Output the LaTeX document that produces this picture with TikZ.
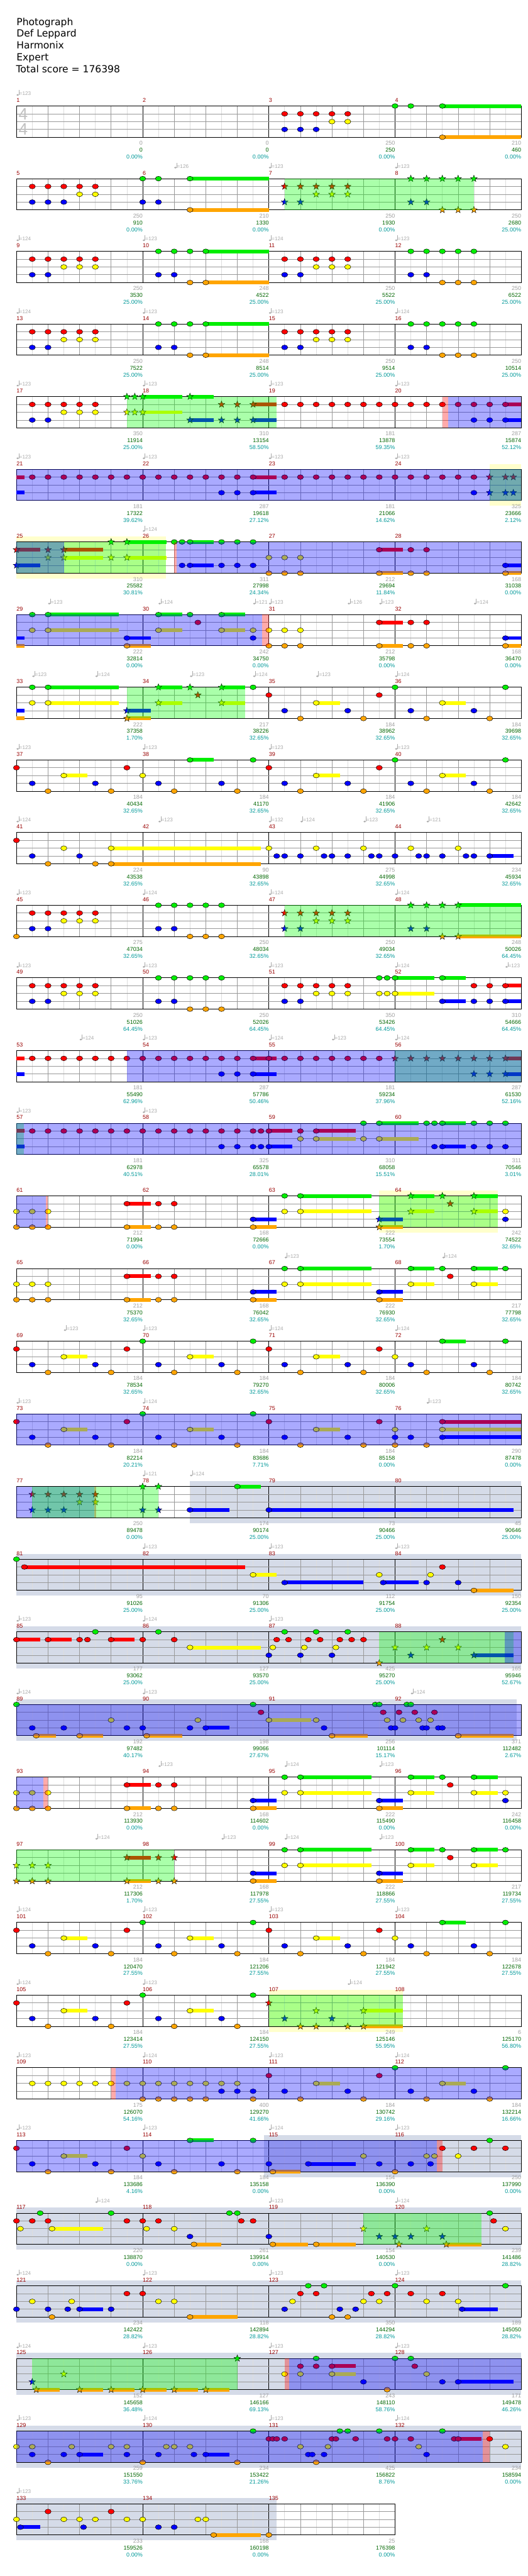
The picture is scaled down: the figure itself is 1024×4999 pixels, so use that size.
\documentclass[tikz,border=0pt]{standalone}
\usepackage{fontspec}
\setmainfont{Liberation Sans}
\newfontfamily\hdrfont{DejaVu Sans}
\definecolor{cG}{HTML}{00EE00}
\definecolor{cR}{HTML}{FF0000}
\definecolor{cY}{HTML}{FFFF00}
\definecolor{cB}{HTML}{0000FF}
\definecolor{cO}{HTML}{FFA500}
\definecolor{boxY}{HTML}{FFFFCC}
\definecolor{boxS}{HTML}{D5DBE8}
\definecolor{mred}{HTML}{990000}
\definecolor{sgry}{HTML}{A0A0A0}
\definecolor{sgrn}{HTML}{006600}
\definecolor{stel}{HTML}{009999}
\definecolor{tgry}{HTML}{AAAAAA}
\definecolor{lgrid}{HTML}{DDDDDD}
\definecolor{dgrid}{HTML}{999999}
\newcount\tcnt
\newcommand\rT{0}
\newcommand\setrow[1]{\pgfmathsetmacro\rT{205.7+141*#1}}
\newcommand\nt[3]{\filldraw[fill=#3,draw=black,line width=0.6] ({32+(#1)*30.625},{\rT+(#2)*15.15}) ellipse [x radius=6, y radius=4.65];}
\newcommand\sr[3]{\filldraw[fill=#3,draw=black,line width=0.5,shift={({32+(#1)*30.625},{\rT+(#2)*15.15})}] (270:6.8) -- (306:2.8) -- (342:6.8) -- (18:2.8) -- (54:6.8) -- (90:2.8) -- (126:6.8) -- (162:2.8) -- (198:6.8) -- (234:2.8) -- cycle;}
\newcommand\su[4]{\fill[#4] ({32+(#1)*30.625},{\rT+(#3)*15.15-3.65}) rectangle ({32+(#2)*30.625},{\rT+(#3)*15.15+3.65});}
\newcommand\nG[1]{\foreach \e in {#1}{\nt{\e}{0}{cG}}}
\newcommand\nR[1]{\foreach \e in {#1}{\nt{\e}{1}{cR}}}
\newcommand\nY[1]{\foreach \e in {#1}{\nt{\e}{2}{cY}}}
\newcommand\nB[1]{\foreach \e in {#1}{\nt{\e}{3}{cB}}}
\newcommand\nO[1]{\foreach \e in {#1}{\nt{\e}{4}{cO}}}
\newcommand\sG[1]{\foreach \e in {#1}{\sr{\e}{0}{cG}}}
\newcommand\sR[1]{\foreach \e in {#1}{\sr{\e}{1}{cR}}}
\newcommand\sY[1]{\foreach \e in {#1}{\sr{\e}{2}{cY}}}
\newcommand\sB[1]{\foreach \e in {#1}{\sr{\e}{3}{cB}}}
\newcommand\sO[1]{\foreach \e in {#1}{\sr{\e}{4}{cO}}}
\newcommand\uG[1]{\foreach \p/\q in {#1}{\su{\p}{\q}{0}{cG}}}
\newcommand\uR[1]{\foreach \p/\q in {#1}{\su{\p}{\q}{1}{cR}}}
\newcommand\uY[1]{\foreach \p/\q in {#1}{\su{\p}{\q}{2}{cY}}}
\newcommand\uB[1]{\foreach \p/\q in {#1}{\su{\p}{\q}{3}{cB}}}
\newcommand\uO[1]{\foreach \p/\q in {#1}{\su{\p}{\q}{4}{cO}}}
\newcommand\ovl[3]{\fill[#3,fill opacity=0.3333] ({32+(#1)*30.625},\rT) rectangle ({32+(#2)*30.625},{\rT+60.6});}
\newcommand\ovG[2]{\ovl{#1}{#2}{green}}
\newcommand\ovB[2]{\ovl{#1}{#2}{blue}}
\newcommand\ovP[2]{\ovl{#1}{#2}{red}}
\newcommand\bx[3]{\fill[#3] ({32+(#1)*30.625},{\rT-10.5}) rectangle ({32+(#2)*30.625},{\rT+71});}
\newcommand\bxY[2]{\bx{#1}{#2}{boxY}}
\newcommand\bxS[2]{\bx{#1}{#2}{boxS}}
\newcommand\grid[1]{%
  \pgfmathtruncatemacro\gnl{8*#1-1}\pgfmathtruncatemacro\gnd{8*#1-2}\pgfmathtruncatemacro\gnm{#1-1}%
  \foreach \e in {1,3,...,\gnl}{\draw[lgrid,line width=0.8] ({32+\e*30.625},\rT) -- ({32+\e*30.625},{\rT+60.6});}
  \foreach \e in {2,4,...,\gnd}{\draw[dgrid,line width=0.8] ({32+\e*30.625},\rT) -- ({32+\e*30.625},{\rT+60.6});}
  \foreach \e in {1,...,\gnm}{\draw[black,line width=0.8] ({32+\e*245},\rT) -- ({32+\e*245},{\rT+60.6});}
  \foreach \s in {1,2,3}{\draw[dgrid,line width=0.9] (32,{\rT+\s*15.15}) -- ({32+#1*245},{\rT+\s*15.15});}
  \draw[black,line width=1.1] (32,\rT) rectangle ({32+#1*245},{\rT+60.6});}
\newcommand\mlabs[2]{\pgfmathtruncatemacro\gml{#2-1}\foreach \i in {0,...,\gml}{\pgfmathtruncatemacro\mm{#1+\i}\node[mlabel] (m\mm) at ({32+\i*245},{\rT-7.4}) {\mm};}}
\newcommand\stats[4]{\pgfmathtruncatemacro\cc{mod(#1-1,4)+1}%
  \node[sgray] (ga#1) at ({32+\cc*245},{\rT+76}) {#2};
  \node[sgreen] (gb#1) at ({32+\cc*245},{\rT+89.3}) {#3};
  \node[steal] (gc#1) at ({32+\cc*245},{\rT+102.7}) {#4\%};}
\newcommand\tempos[1]{\foreach \p/\q in {#1}{%
  \global\advance\tcnt by 1
  \fill[tgry] ({32+\p*30.625+2.3},{\rT-21.4}) ellipse [x radius=2.4, y radius=1.7];
  \draw[tgry,line width=0.6] ({32+\p*30.625+4.5},{\rT-21.4}) -- ({32+\p*30.625+4.5},{\rT-31});
  \node[tmp] (tp\the\tcnt) at ({32+\p*30.625+5.3},{\rT-20.6}) {=\q};}}
\begin{document}
\begin{tikzpicture}[x=1pt,y=-1pt,
  mlabel/.style={anchor=base west,inner sep=0,text=mred,font=\fontsize{11}{11}\selectfont},
  sgray/.style={anchor=base east,inner sep=0,text=sgry,font=\fontsize{11}{11}\selectfont},
  sgreen/.style={sgray,text=sgrn},
  steal/.style={sgray,text=stel},
  tmp/.style={anchor=base west,inner sep=0,text=tgry,font=\fontsize{10}{10}\selectfont},
  hdr/.style={anchor=base west,inner sep=0,font=\hdrfont\fontsize{19}{19}\selectfont}]
\useasboundingbox (0,0) rectangle (1024,4999);
\fill[white] (0,0) rectangle (1024,4999);
\node[hdr] (title) at (32,49.3) {Photograph};
\node[hdr] (artist) at (32,72) {Def Leppard};
\node[hdr] (charter) at (32,95) {Harmonix};
\node[hdr] (diff) at (32,118) {Expert};
\node[hdr] (total) at (31,140.7) {Total score = 176398};
% row 0
\setrow{0}
\grid{4}
\uG{27/32}\uO{27/32}
\nG{24,25,27}\nR{17,18,19,20,21}\nY{20,21}\nB{17,18,19}\nO{27}
\node[text=lgrid!70!gray,font=\fontsize{32}{32}\selectfont,inner sep=0] (ts1) at (45,{\rT+15.5}) {4};
\node[text=lgrid!70!gray,font=\fontsize{32}{32}\selectfont,inner sep=0] (ts2) at (45,{\rT+45}) {4};
\tempos{0/123}
\mlabs{1}{4}
\stats{1}{0}{0}{0.00}\stats{2}{0}{0}{0.00}\stats{3}{250}{250}{0.00}\stats{4}{210}{460}{0.00}
% row 1
\setrow{1}
\grid{4}
\uG{11/16}\uO{11/16}
\nR{1,2,3,4,5}\nY{4,5}\nB{1,2,3,8,9}\nG{8,9,11}\nO{11}
\sR{17,18,19,20,21}\sY{19,20,21}\sB{17,18,25,26}\sG{25,26,27,28,29}\sO{27,28,29}
\ovG{17}{29}
\tempos{10/126,16/123,24/123}
\mlabs{5}{4}
\stats{5}{250}{910}{0.00}\stats{6}{210}{1330}{0.00}\stats{7}{250}{1930}{0.00}\stats{8}{250}{2680}{25.00}
% row 2
\setrow{2}
\grid{4}
\uG{12/16}\uO{12/16}
\nR{1,2,3,4,5,17,18,19,20,21}\nY{3,4,5,19,20,21}\nB{1,2,9,10,17,18,25,26}\nG{9,10,11,12,25,26,27,28,29}\nO{11,12,27,28,29}
\tempos{0/124,8/123,16/124,24/123}
\mlabs{9}{4}
\stats{9}{250}{3530}{25.00}\stats{10}{248}{4522}{25.00}\stats{11}{250}{5522}{25.00}\stats{12}{250}{6522}{25.00}
% row 3
\setrow{3}
\grid{4}
\uG{12/16}\uO{12/16}
\nR{1,2,3,4,5,17,18,19,20,21}\nY{3,4,5,19,20,21}\nB{1,2,9,10,17,18,25,26}\nG{9,10,11,12,25,26,27,28,29}\nO{11,12,27,28,29}
\tempos{0/124,8/123,16/123,24/124}
\mlabs{13}{4}
\stats{13}{250}{7522}{25.00}\stats{14}{248}{8514}{25.00}\stats{15}{250}{9514}{25.00}\stats{16}{250}{10514}{25.00}
% row 4
\setrow{4}
\grid{4}
\uG{8/10.5,11/12.5}\uY{8/10.5}\uB{11/12.5,15/16.5,31/32}\uR{15/16.5,31/32}
\nR{1,2,3,4,5}\nR{17,...,31}\nY{3,4,5}\nB{1,2,29,30,31}
\sG{7,7.5,8,11}\sY{7,7.5,8}\sB{11,13,14,15}\sR{13,14,15}
\ovG{7}{16.5}\ovP{27}{27.37}\ovB{27.37}{32}
\tempos{0/123,8/123,16/123,24/123}
\mlabs{17}{4}
\stats{17}{350}{11914}{25.00}\stats{18}{310}{13154}{58.50}\stats{19}{181}{13878}{59.35}\stats{20}{287}{15874}{52.12}
% row 5
\setrow{5}
\bxY{30}{32}
\grid{4}
\uR{0/0.5,15/16.5}\uB{0/0.5,15/16.5}
\nR{1,...,15}\nR{17,...,29}\nB{13,14,15,29}
\sR{30,31,31.5}\sB{30,31,31.5}
\ovG{30}{32}\ovB{0}{32}
\tempos{0/123,8/123,16/123,24/123}
\mlabs{21}{4}
\stats{21}{181}{17322}{39.62}\stats{22}{287}{19618}{27.12}\stats{23}{181}{21066}{14.62}\stats{24}{325}{23666}{2.12}
% row 6
\setrow{6}
\bxY{0}{9.47}
\grid{4}
\uR{0/1.5,3/5.5,23/24.5}\uB{0/1.5,11/12.5,31/32}\uY{3/5.5,7/9.5}\uG{7/9.5,11/12.5}\uO{23/24.5,31/32}
\nG{10,10.5,11,13,14,15}\nB{10.5,11,13,14,15,31}\nY{16,17,18}\nO{16,17,18,23,25,26,31}\nR{23,25,26}
\sR{0,2,3}\sB{0}\sY{2,3,6,7}\sG{6,7}
\ovG{0}{9.47}\ovB{0}{3}\ovP{10}{10.17}\ovB{10.17}{32}
\tempos{8/124}
\mlabs{25}{4}
\stats{25}{310}{25582}{30.81}\stats{26}{311}{27998}{24.34}\stats{27}{212}{29694}{11.84}\stats{28}{168}{31038}{0.00}
% row 7
\setrow{7}
\grid{4}
\uB{0/0.5,7/8.5,31/32}\uO{0/0.5,7/8.5,23/24.5,31/32}\uG{2/6.5,9/10.5,13/14.5}\uY{2/6.5,9/10.5,13/14.5}\uR{23/24.5}
\nG{1,2,9,11,13}\nY{1,2,9,13,15,16,17,18}\nB{7,15,31}\nO{7,16,17,18,23,25,26,31}\nR{11.5,23,25,26}
\ovB{0}{15.56}\ovP{15.56}{16}
\tempos{2/123,9/124,15/121,16/123,21/126,23/123,29/124}
\mlabs{29}{4}
\stats{29}{222}{32814}{0.00}\stats{30}{242}{34750}{0.00}\stats{31}{212}{35798}{0.00}\stats{32}{168}{36470}{0.00}
% row 8
\setrow{8}
\grid{4}
\uB{0/0.5,7/8.5}\uO{0/0.5,7/8.5}\uG{2/6.5,9/10.5,13/14.5}\uY{2/6.5,9/10.5,13/14.5,19/20.5,27/28.5}
\nG{1,2,15,24,31}\nY{1,2,19,27}\nR{16,23}\nB{17,21,25,29}\nO{18,22,26,30}
\sB{7}\sO{7}\sG{9,11,13}\sY{9,13}\sR{11.5}
\ovG{7}{14.5}
\tempos{1/123,5/124,11/123,15/124,19/123,24/124}
\mlabs{33}{4}
\stats{33}{222}{37358}{1.70}\stats{34}{217}{38226}{32.65}\stats{35}{184}{38962}{32.65}\stats{36}{184}{39698}{32.65}
% row 9
\setrow{9}
\grid{4}
\uY{3/4.5,19/20.5,27/28.5}\uG{11/12.5}
\nR{0,7,16,23}\nB{1,5,9,13,17,21,25,29}\nO{2,6,10,14,18,22,26,30}\nY{3,8,19,27}\nG{11,15,24,31}
\tempos{0/123,8/123,16/123,24/123}
\mlabs{37}{4}
\stats{37}{184}{40434}{32.65}\stats{38}{184}{41170}{32.65}\stats{39}{184}{41906}{32.65}\stats{40}{184}{42642}{32.65}
% row 10
\setrow{10}
\grid{4}
\uY{6/15.5}\uO{6/15.5}\uB{30/31.5}
\nR{0}\nB{1,4,16.5,17,18,19.5,20,21,22.5,23,24,25.5,26,27,28.5,29,30}\nO{2,5,6}\nY{3,6,16,19,22,25,28}
\tempos{0/124,9/123,16/132,18/124,22/123,26/121}
\mlabs{41}{4}
\stats{41}{224}{43538}{32.65}\stats{42}{90}{43898}{32.65}\stats{43}{275}{44998}{32.65}\stats{44}{234}{45934}{32.65}
% row 11
\setrow{11}
\grid{4}
\uG{28/32}\uO{28/32}
\nO{0,11,12,13}\nR{1,2,3,4,5}\nY{3,4,5}\nB{1,2,9,10}\nG{9,10,11,12,13}
\sR{17,18,19,20,21}\sY{19,20,21}\sB{17,18,25,26}\sG{25,26,27,28}\sO{27,28}
\ovG{17}{32}
\tempos{0/123,8/124,16/124,24/124}
\mlabs{45}{4}
\stats{45}{275}{47034}{32.65}\stats{46}{250}{48034}{32.65}\stats{47}{250}{49034}{32.65}\stats{48}{248}{50026}{64.45}
% row 12
\setrow{12}
\grid{4}
\uG{24/26.5,27/28.5}\uY{24/26.5}\uB{27/28.5,31/32}\uR{31/32}
\nR{1,2,3,4,5,17,18,19,20,21,29,30,31}\nY{3,4,5,19,20,21,23,23.5,24}\nB{1,2,9,10,17,18,27,29,30,31}\nG{9,10,11,12,13,23,23.5,24,27}\nO{11,12,13}
\tempos{0/123,8/123,16/123,24/124,31/123}
\mlabs{49}{4}
\stats{49}{250}{51026}{64.45}\stats{50}{250}{52026}{64.45}\stats{51}{350}{53426}{64.45}\stats{52}{310}{54666}{64.45}
% row 13
\setrow{13}
\grid{4}
\uR{0/0.5,15/16.5,31/32}\uB{0/0.5,15/16.5,31/32}
\nR{1,...,23}\nB{13,14,15}
\sR{24,...,31}\sB{29,30,31}
\ovG{24}{32}\ovB{7}{32}
\tempos{4/124,8/123,16/124,20/123,24/124}
\mlabs{53}{4}
\stats{53}{181}{55490}{62.96}\stats{54}{287}{57786}{50.46}\stats{55}{181}{59234}{37.96}\stats{56}{287}{61530}{52.16}
% row 14
\setrow{14}
\grid{4}
\uR{0/0.5,16/17.5,19/21.5}\uB{0/0.5,16/17.5,27/28.5}\uY{19/21.5,23/25.5}\uG{23/25.5,27/28.5}
\nR{1,...,15}\nR{15.5,16,18,19}\nB{13,14,15,15.5,16,26.5,27,29,30,31}\nY{18,19,22,23}\nG{22,23,26,26.5,27,29,30,31}
\ovG{0}{0.48}\ovB{0}{32}
\tempos{0/123,8/123}
\mlabs{57}{4}
\stats{57}{181}{62978}{40.51}\stats{58}{325}{65578}{28.01}\stats{59}{310}{68058}{15.51}\stats{60}{311}{70546}{3.01}
% row 15
\setrow{15}
\bxY{23}{30.5}
\grid{4}
\uR{7/8.5}\uO{7/8.5,15/16.5,23/24.5}\uB{15/16.5,23/24.5}\uG{18/22.5,25/26.5,29/30.5}\uY{18/22.5,25/26.5,29/30.5}
\nY{0,1,2,17,18,31}\nO{0,1,2,7,9,10,15}\nR{7,9,10}\nB{15,31}\nG{17,18}
\sB{23}\sO{23}\sG{25,27,29}\sY{25,29}\sR{27.5}
\ovB{0}{1.87}\ovP{1.87}{2}\ovG{23}{30.5}
\mlabs{61}{4}
\stats{61}{212}{71994}{0.00}\stats{62}{168}{72666}{0.00}\stats{63}{222}{73554}{1.70}\stats{64}{242}{74522}{32.65}
% row 16
\setrow{16}
\grid{4}
\uR{7/8.5}\uO{7/8.5,15/16.5,23/24.5}\uB{15/16.5,23/24.5}\uG{18/22.5,25/26.5,29/30.5}\uY{18/22.5,25/26.5,29/30.5}
\nY{0,1,2,17,18,25,29}\nO{0,1,2,7,9,10,15,23}\nR{7,9,10,27.5}\nB{15,23}\nG{17,18,25,27,29,31}
\tempos{17/123,27/124}
\mlabs{65}{4}
\stats{65}{212}{75370}{32.65}\stats{66}{168}{76042}{32.65}\stats{67}{222}{76930}{32.65}\stats{68}{217}{77798}{32.65}
% row 17
\setrow{17}
\grid{4}
\uY{3/4.5,11/12.5,19/20.5}\uG{27/28.5}
\nR{0,7,16,23}\nB{1,5,9,13,17,21,25,29}\nO{2,6,10,14,18,22,26,30}\nY{3,11,19,24}\nG{8,15,27,31}
\tempos{3/123,8/123,16/124,24/124}
\mlabs{69}{4}
\stats{69}{184}{78534}{32.65}\stats{70}{184}{79270}{32.65}\stats{71}{184}{80006}{32.65}\stats{72}{184}{80742}{32.65}
% row 18
\setrow{18}
\grid{4}
\uY{3/4.5,11/12.5,19/20.5,27/32}\uR{27/32}\uB{27/32}
\nR{0,7,16,23,27}\nB{1,5,9,13,17,21,24,25,27}\nO{2,6,10,14,18,22,24,26}\nY{3,11,19,24,27}\nG{8,15}
\ovB{0}{32}
\tempos{0/123,8/124,26/123}
\mlabs{73}{4}
\stats{73}{184}{82214}{20.21}\stats{74}{184}{83686}{7.71}\stats{75}{184}{85158}{0.00}\stats{76}{290}{87478}{0.00}
% row 19
\setrow{19}
\bxS{11}{32}
\grid{4}
\uG{14/15.5}\uB{11/13.5,16/31.5}
\nG{14}\nB{11,16}
\sR{1,2,3,4,5}\sB{1,2,3,8,9}\sY{4,5}\sG{8,9}
\ovB{0}{4.95}\ovP{4.95}{5.05}\ovG{1}{9}
\tempos{8/121,11/124}
\mlabs{77}{4}
\stats{77}{250}{89478}{0.00}\stats{78}{174}{90174}{25.00}\stats{79}{73}{90466}{25.00}\stats{80}{45}{90646}{25.00}
% row 20
\setrow{20}
\bxS{0}{32}
\grid{4}
\uR{0.5/14.5}\uY{15/16.5}\uB{17/22,23.25/25.5}\uO{29/31.5}
\nG{0}\nR{0.5,27}\nY{15,23,26.25}\nB{17,23.25,26,28}\nO{29}
\tempos{8/123,16/123,24/123}
\mlabs{81}{4}
\stats{81}{95}{91026}{25.00}\stats{82}{70}{91306}{25.00}\stats{83}{112}{91754}{25.00}\stats{84}{150}{92354}{25.00}
% row 21
\setrow{21}
\bxS{0}{32}
\grid{4}
\uR{0/1.5,2/3.5,6/7.5}\uY{11/15.5}\uB{29/31.5}
\nR{0,2,4,4.5,6,8,10,16.5,17.25,18.5,19.25,20.5,21.25,22}\nG{5,9,17,19,21}\nY{11,16.25,18.25,20.25}\nB{16,18,20}
\sO{23}\sY{24,26,28}\sB{25,29}\sR{27}
\ovG{23}{31.5}\ovB{30.95}{32}
\tempos{0/123,8/124,16/123}
\mlabs{85}{4}
\stats{85}{177}{93062}{25.00}\stats{86}{127}{93570}{25.00}\stats{87}{425}{95270}{25.00}\stats{88}{165}{95946}{52.67}
% row 22
\setrow{22}
\bxS{0}{31.7}
\grid{4}
\uY{16/18.7}\uB{12/13.5}\uO{1.25/2.5,4/5.5,8.25/10.5,20/22.25,28/31.5}
\nG{0,15,22.75,23,24.75,25}\nR{15.5,23.25,24.25,25.25,26.5}\nY{6,11.5,16,19,23.5,24.5,25.5,26.25}\nB{1,3,7,8,11,12,19.5,23.75,24,25.75,26,26.75,27}\nO{1.25,4,8.25,20,28}
\ovB{0}{32}
\tempos{0/124,8/123,25/124}
\mlabs{89}{4}
\stats{89}{192}{97482}{40.17}\stats{90}{198}{99066}{27.67}\stats{91}{256}{101114}{15.17}\stats{92}{371}{112482}{2.67}
% row 23
\setrow{23}
\grid{4}
\uR{7/8.5}\uO{7/8.5,15/16.5,23/24.5}\uB{15/16.5,23/24.5}\uG{18/22.5,25/26.5,29/30.5}\uY{18/22.5,25/26.5,29/30.5}
\nY{0,1,2,17,18,25,29,31}\nO{0,1,2,7,9,10,15,23}\nR{7,9,10,27.5}\nB{15,23,31}\nG{17,18,25,27,29}
\ovB{0}{1.7}\ovP{1.7}{2}
\tempos{9/123,17/124,23/123}
\mlabs{93}{4}
\stats{93}{212}{113930}{0.00}\stats{94}{168}{114602}{0.00}\stats{95}{222}{115490}{0.00}\stats{96}{242}{116458}{0.00}
% row 24
\setrow{24}
\grid{4}
\uR{7/8.5}\uO{7/8.5,15/16.5,23/24.5}\uB{15/16.5,23/24.5}\uG{18/22.5,25/26.5,29/30.5}\uY{18/22.5,25/26.5,29/30.5}
\nO{15,23}\nB{15,23}\nG{17,18,25,27,29,31}\nY{17,18,25,29}\nR{27.5}
\sY{0,1,2}\sO{0,1,2,7,9,10}\sR{7,9,10}
\ovG{0}{10}
\tempos{5/124,13/123,17/124,23/123}
\mlabs{97}{4}
\stats{97}{212}{117306}{1.70}\stats{98}{168}{117978}{27.55}\stats{99}{222}{118866}{27.55}\stats{100}{217}{119734}{27.55}
% row 25
\setrow{25}
\grid{4}
\uY{3/4.5,11/12.5,19/20.5}\uG{27/28.5}
\nR{0,7,16,23}\nB{1,5,9,13,17,21,25,29}\nO{2,6,10,14,18,22,26,30}\nY{3,11,19,24}\nG{8,15,27,31}
\tempos{0/124,8/123,16/123,24/123}
\mlabs{101}{4}
\stats{101}{184}{120470}{27.55}\stats{102}{184}{121206}{27.55}\stats{103}{184}{121942}{27.55}\stats{104}{184}{122678}{27.55}
% row 26
\setrow{26}
\bxY{16}{24.5}
\grid{4}
\uY{3/4.5,11/12.5,22/24.5}\uO{22/24.5}
\nR{0,7}\nB{1,5,9,13}\nO{2,6,10,14}\nY{3,11}\nG{8,15}
\sR{16}\sB{17,20}\sO{18,19,21,22}\sY{19,22}
\ovG{16}{24.5}
\tempos{0/124,8/123,21/124}
\mlabs{105}{4}
\stats{105}{184}{123414}{27.55}\stats{106}{184}{124150}{27.55}\stats{107}{249}{125146}{55.95}\stats{108}{6}{125170}{56.80}
% row 27
\setrow{27}
\grid{4}
\uY{19/20.5,27/28.5}
\nY{1,...,14}\nY{19,27}\nO{8,9,10,11,12,15,18,22,26,30}\nB{13,14,15,17,21,25,29}\nR{16,23}\nG{24,31}
\ovP{6}{6.3}\ovB{6.3}{32}
\tempos{0/123,8/124,16/123,24/124}
\mlabs{109}{4}
\stats{109}{175}{126070}{54.16}\stats{110}{400}{129270}{41.66}\stats{111}{184}{130742}{29.16}\stats{112}{184}{132214}{16.66}
% row 28
\setrow{28}
\bxS{15.7}{32}
\grid{4}
\uY{3/4.5}\uG{11/12.5}\uO{16.25/18}\uB{18.5/21.5}
\nR{0,7,27,29,31}\nY{3,8,22,26,26.5,28}\nB{1,5,9,13,16,18.5,23,25,26.25}\nO{2,6,10,14,16.25,24}\nG{11,15,30}
\ovB{0}{26.65}\ovP{26.65}{27}
\tempos{0/123,8/123,16/124,24/123}
\mlabs{113}{4}
\stats{113}{184}{133686}{4.16}\stats{114}{184}{135158}{0.00}\stats{115}{154}{136390}{0.00}\stats{116}{250}{137990}{0.00}
% row 29
\setrow{29}
\bxS{0}{32}
\grid{4}
\uY{2.25/5.5}\uO{11.25/13,16.25/18.5,19/21.5,27.25/29.5}
\nR{0,1,2,7,8,9,14.25,15,30.25}\nG{1.5,6,13.5,14,30}\nY{0.25,2.25,8.25,10,31}\nB{11,16}\nO{11.25,16.25,19}
\sY{22,26}\sB{23,24,25,27}\sO{24.25,27.25}
\ovG{22}{29.5}
\tempos{5/124,16/123,24/124}
\mlabs{117}{4}
\stats{117}{220}{138870}{0.00}\stats{118}{261}{139914}{0.00}\stats{119}{154}{140530}{0.00}\stats{120}{239}{141486}{28.82}
% row 30
\setrow{30}
\bxS{0}{32}
\grid{4}
\uB{4/5.5,28.25/30.5}\uO{11/14}
\nB{0,2,3.25,4,6,17,20.5,21.5,28.25}\nY{1,3.5,9,10,17.5,22,23,26,28}\nO{2.25,11,20,21}\nR{7,8,18,19,22.5,23.5,25,27}\nG{18.5,19.5,24,31}
\tempos{0/124,8/123,16/123,24/123}
\mlabs{121}{4}
\stats{121}{234}{142422}{28.82}\stats{122}{118}{142894}{28.82}\stats{123}{350}{144294}{28.82}\stats{124}{189}{145050}{28.82}
% row 31
\setrow{31}
\bxS{0}{32}
\grid{4}
\uO{1.25/2.75,4/5.5,6/7.5,8/9.5,10/11.5,12/13.5}\uR{20/21.5}\uY{20/21.5}\uB{28/31.5}
\nY{17,18,20,26}\nR{18,19,20,25.25}\nG{19,24,25}\nB{22,27,28}\nO{23.5}
\sB{1}\sO{1.25,4,6,8,10,12}\sY{3}\sG{14}
\ovG{1}{14}\ovP{17}{17.3}\ovB{17.3}{32}
\tempos{0/124,8/123,16/123,24/123}
\mlabs{125}{4}
\stats{125}{152}{145658}{36.48}\stats{126}{127}{146166}{69.13}\stats{127}{243}{148110}{58.76}\stats{128}{171}{149478}{46.26}
% row 32
\setrow{32}
\bxS{0}{32}
\grid{4}
\uB{4/5.5,12/13.5}\uR{28/29.5}
\nY{0,1,3.5,6,7,9.5,10,11,18,19.75,25.5,31}\nB{1,3,4,7,9,11.25,12,18.5,18.75,19.5,26}\nO{2,8,14,19}\nG{15,20.5,21,23,27}\nR{16,16.25,16.5,17,20,20.25,21.5,23.5,24,25,27.75,28,30}
\ovB{0}{29.56}\ovP{29.56}{30}
\tempos{0/123,8/124,16/123,24/124}
\mlabs{129}{4}
\stats{129}{259}{151550}{33.76}\stats{130}{234}{153422}{21.26}\stats{131}{425}{156822}{8.76}\stats{132}{234}{158594}{0.00}
% row 33
\setrow{33}
\bxS{0}{16.5}
\grid{3}
\uB{0.25/1.5}\uO{12.5/15.5}
\nY{0,3,4,5,7,8,11.5,12}\nB{0.25,4.25,9,10}\nR{2,6}\nO{12.5,16}
\tempos{0/123}
\mlabs{133}{3}
\stats{133}{233}{159526}{0.00}\stats{134}{168}{160198}{0.00}\stats{135}{25}{176398}{0.00}
\end{tikzpicture}
\end{document}
